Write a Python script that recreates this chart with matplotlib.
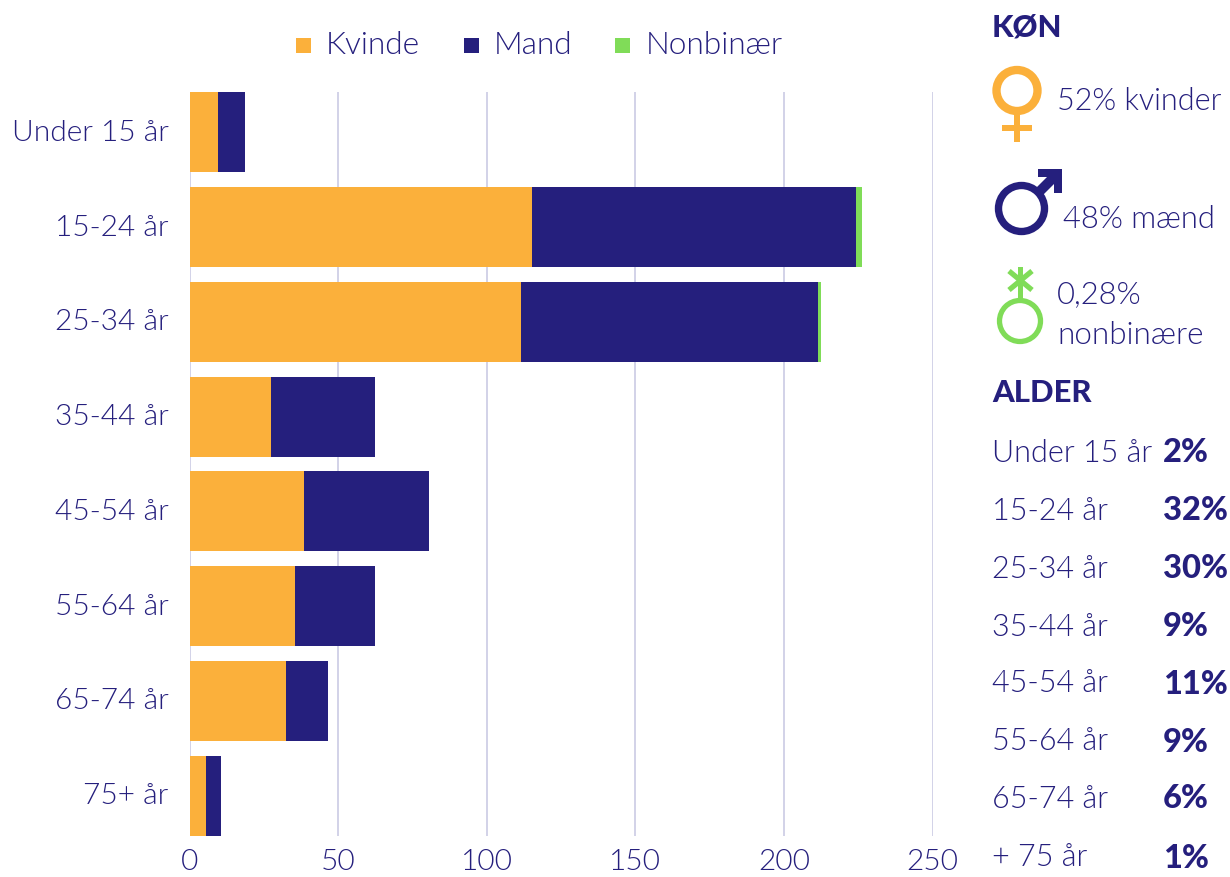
import matplotlib
matplotlib.use("Agg")
import matplotlib.pyplot as plt
from matplotlib import font_manager as fm
from matplotlib.patches import Circle, Polygon, Rectangle
from matplotlib.transforms import ScaledTranslation

W, H = 1230, 877
NAVY = "#251f7d"
ORANGE = "#fbb03b"
GREEN = "#80dc58"
GRID = "#cfcfe6"

# data
ages = ["Under 15 år", "15-24 år", "25-34 år", "35-44 år", "45-54 år", "55-64 år", "65-74 år", "75+ år"]
kvinde = [9.5, 115.2, 111.5, 27.5, 38.5, 35.5, 32.5, 5.5]
mand = [9.3, 109, 100, 35, 42, 27, 14, 5]
nonbinaer = [0, 2, 1, 0, 0, 0, 0, 0]
xticks = [0, 50, 100, 150, 200, 250]

age_rows = ["Under 15 år", "15-24 år", "25-34 år", "35-44 år", "45-54 år", "55-64 år", "65-74 år", "+ 75 år"]
age_pct = ["2%", "32%", "30%", "9%", "11%", "9%", "6%", "1%"]
age_y = [453, 511, 569, 627, 684, 742, 799, 858]

plt.rcParams["font.family"] = ["Lato", "DejaVu Sans"]

# the plain Lato Light file, weight="light" picks the hairline cut
light_files = [f.fname for f in fm.fontManager.ttflist
               if f.name.startswith("Lato") and f.fname.endswith("Lato-Light.ttf")]
if light_files:
    LIGHT = {"fontproperties": fm.FontProperties(fname=light_files[0])}
else:
    LIGHT = {"fontproperties": fm.FontProperties(family="Lato")}


def light_text(x, y, s, size, **kw):
    t = ov.text(x, y, s, color=NAVY, va="center", **LIGHT, **kw)
    t.set_fontsize(size)
    return t


fig = plt.figure(figsize=(W / 100, H / 100), dpi=100)

# chart axes, placed in pixels
left, right, top, bottom = 189.5, 932.5, 92.3, 835.5
ax = fig.add_axes([left / W, 1 - bottom / H, (right - left) / W, (bottom - top) / H])
ax.set_xlim(0, 250)
ax.set_ylim(7.422, -0.422)

y = list(range(len(ages)))
left2 = [a + b for a, b in zip(kvinde, mand)]
ax.barh(y, kvinde, height=0.844, color=ORANGE, label="Kvinde", zorder=3)
ax.barh(y, mand, height=0.844, left=kvinde, color=NAVY, label="Mand", zorder=3)
ax.barh(y, nonbinaer, height=0.844, left=left2, color=GREEN, label="Nonbinær", zorder=3)

for s in ax.spines.values():
    s.set_visible(False)
ax.set_xticks(xticks)
ax.set_yticks(y)
ax.set_yticklabels(ages)
ax.tick_params(axis="x", length=0, labelcolor=NAVY, pad=10)
ax.tick_params(axis="y", length=0, labelcolor=NAVY, pad=15)
for lab in ax.get_xticklabels():
    lab.set_fontproperties(LIGHT["fontproperties"])
    lab.set_fontsize(21.5)
up = ScaledTranslation(0, 2 / 100, fig.dpi_scale_trans)
for tick in ax.yaxis.get_major_ticks():
    tick.label1.set_fontproperties(LIGHT["fontproperties"])
    tick.label1.set_fontsize(21.5)
    tick.label1.set_transform(tick.label1.get_transform() + up)
ax.grid(axis="x", color=GRID, lw=1.3, zorder=0)
ax.set_axisbelow(True)

# overlay in pixel coordinates for legend, icons and side text
ov = fig.add_axes([0, 0, 1, 1])
ov.set_xlim(0, W)
ov.set_ylim(H, 0)
ov.axis("off")
ov.patch.set_alpha(0)

for x0, name, col, tx in [(296, "Kvinde", ORANGE, 326), (464, "Mand", NAVY, 494), (615, "Nonbinær", GREEN, 646)]:
    ov.add_patch(Rectangle((x0, 38), 15, 15, color=col, lw=0))
    light_text(tx, 45, name, 22.8, ha="left")

ov.text(992, 27, "KØN", color=NAVY, fontsize=22.3, fontweight="black", va="center")
ov.text(992, 393, "ALDER", color=NAVY, fontsize=22.3, fontweight="black", va="center")

# female icon
ov.add_patch(Circle((1017, 90.5), 20.5, fill=False, ec=ORANGE, lw=6))
ov.add_patch(Rectangle((1014, 114), 6, 28, color=ORANGE, lw=0))
ov.add_patch(Rectangle((1002, 125), 30, 5.5, color=ORANGE, lw=0))
light_text(1057, 101, "52% kvinder", 22)

# male icon
ov.add_patch(Circle((1021.5, 208.5), 23, fill=False, ec=NAVY, lw=5.3))
ov.add_patch(Polygon([(1034, 190), (1041, 197), (1058, 180), (1051, 173)], color=NAVY, lw=0))
ov.add_patch(Polygon([(1038, 169), (1062, 169), (1062, 193), (1054, 193), (1054, 177), (1038, 177)], color=NAVY, lw=0))
light_text(1063, 219, "48% mænd", 22.3)

# nonbinary icon
ov.add_patch(Circle((1020, 321), 20.5, fill=False, ec=GREEN, lw=3.8))
ov.add_patch(Rectangle((1018, 267), 5, 34, color=GREEN, lw=0))
ov.plot([1009, 1032], [271, 290], color=GREEN, lw=3.8, solid_capstyle="butt")
ov.plot([1032, 1009], [271, 290], color=GREEN, lw=3.8, solid_capstyle="butt")
light_text(1057, 295, "0,28%", 22.3)
light_text(1057, 336, "nonbinære", 22.6)

for yy, name, pct in zip(age_y, age_rows, age_pct):
    light_text(992, yy, name, 22)
    ov.text(1163, yy, pct, color=NAVY, fontsize=23.5, fontweight="black", va="center")

fig.savefig("out.png", dpi=100)
